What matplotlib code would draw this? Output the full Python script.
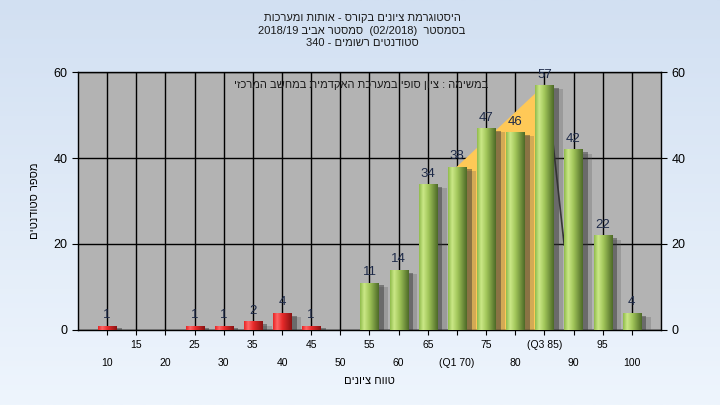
import re

import matplotlib
matplotlib.use("Agg")
import matplotlib.pyplot as plt
import matplotlib.patheffects as pe
import numpy as np
from matplotlib.colors import LinearSegmentedColormap

plt.rcParams["font.family"] = ["Liberation Sans", "DejaVu Sans"]

# grade buckets and number of students in each
grades = [10, 15, 20, 25, 30, 35, 40, 45, 50, 55, 60, 65, 70, 75, 80, 85, 90, 95, 100]
counts = [1, 0, 0, 1, 1, 2, 4, 1, 0, 11, 14, 34, 38, 47, 46, 57, 42, 22, 4]
tick_labels = ["10", "15", "20", "25", "30", "35", "40", "45", "50", "55",
               "60", "65", "(Q1 70)", "75", "80", "(Q3 85)", "90", "95", "100"]
pass_grade = 55
q1_grade = 70
q3_grade = 85
drop_x = [86.4, 88.4]
drop_y = [44.5, 19.8]

title_lines = [
    "היסטוגרמת ציונים בקורס - אותות ומערכות",
    "בסמסטר  (02/2018)  סמסטר אביב 2018/19",
    "סטודנטים רשומים - 340",
]
note = "במשימה : ציון סופי במערכת האקדמית במחשב המרכזי"
xlabel = "טווח ציונים"
ylabel = "מספר סטודנטים"


def visual(s):
    # crude right-to-left reordering for display
    r = s[::-1]
    r = re.sub(r"[0-9A-Za-z/.]+", lambda m: m.group(0)[::-1], r)
    return r.translate(str.maketrans("()", ")("))


fig = plt.figure(figsize=(7.2, 4.05), dpi=100)

bg = fig.add_axes([0, 0, 1, 1], zorder=-10)
bg_cmap = LinearSegmentedColormap.from_list("bg", ["#d2e0f2", "#eef5fd"])
bg.imshow(np.linspace(0, 1, 256)[:, None], cmap=bg_cmap, aspect="auto", extent=[0, 1, 0, 1])
bg.axis("off")

ax = fig.add_axes([0.1083, 0.1852, 0.8097, 0.637])
ax.set_facecolor("#b3b3b3")

green = LinearSegmentedColormap.from_list(
    "g", [(0, "#90bb4c"), (0.22, "#cbe887"), (0.5, "#a2c65a"), (1, "#4d6a27")])
red = LinearSegmentedColormap.from_list(
    "r", [(0, "#e62424"), (0.22, "#ff6666"), (0.5, "#e82a2a"), (1, "#8a1212")])
grad = np.linspace(0, 1, 64)[None, :]

# orange interquartile area, behind the bars
qi1, qi3 = grades.index(q1_grade), grades.index(q3_grade)
ax.fill_between([q1_grade, q3_grade], [counts[qi1], counts[qi3]], color="#ffc957", zorder=2)
ax.plot(drop_x, drop_y, color="#303030", lw=1.2, zorder=2)

shadow = [
    pe.SimplePatchShadow(offset=(7, -3), shadow_rgbFace="#505050", alpha=0.25),
    pe.SimplePatchShadow(offset=(4, -2), shadow_rgbFace="#303030", alpha=0.45),
    pe.Normal(),
]

bars = ax.bar(grades, counts, width=3.1, color="#90bb4c", zorder=3)
for g, c, b in zip(grades, counts, bars):
    if c == 0:
        continue
    b.set_path_effects(shadow)
    cmap = red if g < pass_grade else green
    im = ax.imshow(grad, cmap=cmap, aspect="auto", zorder=3.1,
                   extent=(b.get_x(), b.get_x() + b.get_width(), 0, c))
    im.set_clip_path(b)
    ax.text(g, c + 1.0, str(c), ha="center", va="bottom", fontsize=9.5,
            color="#1e2a48", zorder=4)

ax.set_xlim(5, 105)
ax.set_ylim(0, 60)
ax.set_yticks([0, 20, 40, 60])
ax.set_xticks(grades)
ax.set_xticklabels(tick_labels, fontsize=7.5)
for i, tick in enumerate(ax.xaxis.get_major_ticks()):
    tick.set_pad(4 if i % 2 else 16.5)
ax.tick_params(axis="y", labelsize=9, right=True, labelright=True, length=4, color="black")
ax.tick_params(axis="x", length=3.5, color="black")
ax.grid(True, color="black", lw=1, zorder=1)
ax.set_axisbelow(True)
for spine in ax.spines.values():
    spine.set_color("black")
    spine.set_linewidth(1)

ax.set_xlabel(visual(xlabel), fontsize=8, labelpad=6)
ax.set_ylabel(visual(ylabel), fontsize=8, labelpad=10)

ax.text(0.703, 0.95, visual(note), transform=ax.transAxes, ha="right", va="center",
        fontsize=8, color="#1a1a1a", zorder=5)

for k, line in enumerate(title_lines):
    fig.text(0.503, 1 - (18 + 12.5 * k) / 405, visual(line), ha="center", va="center",
             fontsize=8, color="#1a1a1a")

fig.savefig("out.png", dpi=100)
